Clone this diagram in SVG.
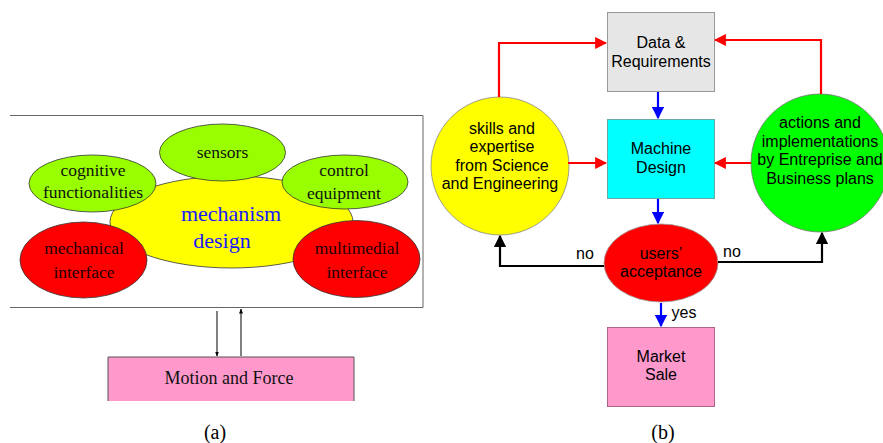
<svg xmlns="http://www.w3.org/2000/svg" width="883" height="443" viewBox="0 0 883 443">
<defs>
<style>
.serif{font-family:"Liberation Serif","Times New Roman",serif;text-anchor:middle;dominant-baseline:central}
.sans{font-family:"Liberation Sans",Arial,sans-serif;text-anchor:middle;dominant-baseline:central;font-size:16px;fill:#000}
.oval{stroke:#333;stroke-width:0.8}
.red{stroke:#ff0000;stroke-width:2.2;fill:none}
.blue{stroke:#0000ff;stroke-width:2.2;fill:none}
.blk{stroke:#000;stroke-width:2.2;fill:none}
.thin{stroke:#000;stroke-width:1;fill:none}
</style>
<marker id="ar" viewBox="0 0 10 10" refX="9" refY="5" markerWidth="5.5" markerHeight="5.5" orient="auto" markerUnits="strokeWidth"><path d="M0,0 L10,5 L0,10 z" fill="#ff0000"/></marker>
<marker id="ab" viewBox="0 0 10 10" refX="9" refY="5" markerWidth="5.5" markerHeight="5.5" orient="auto" markerUnits="strokeWidth"><path d="M0,0 L10,5 L0,10 z" fill="#0000ff"/></marker>
<marker id="ak" viewBox="0 0 10 10" refX="9" refY="5" markerWidth="5.5" markerHeight="5.5" orient="auto" markerUnits="strokeWidth"><path d="M0,0 L10,5 L0,10 z" fill="#000"/></marker>
<marker id="as" viewBox="0 0 10 10" refX="9" refY="5" markerWidth="5" markerHeight="5" orient="auto" markerUnits="strokeWidth"><path d="M0,1 L10,5 L0,9 z" fill="#000"/></marker>
</defs>
<rect width="883" height="443" fill="#fff"/>

<!-- Panel (a) -->
<g id="frame-a">
<path d="M10,115.5 H423 V307.5 H10" fill="none" stroke="#666" stroke-width="1"/>
</g>
<g id="mechanism-design">
<ellipse cx="231.5" cy="222" rx="121.5" ry="46" fill="#ffff00" class="oval"/>
<text class="serif" x="231" y="213" font-size="22" fill="#1a1aff">mechanism</text>
<text class="serif" x="222" y="240" font-size="22" fill="#1a1aff">design</text>
</g>
<g id="sensors">
<ellipse cx="222.5" cy="152.5" rx="63" ry="28.5" fill="#99ff00" class="oval"/>
<text class="serif" x="222.5" y="152" font-size="17.5" fill="#111">sensors</text>
</g>
<g id="cognitive">
<ellipse cx="92.5" cy="183.5" rx="63.5" ry="28.5" fill="#99ff00" class="oval"/>
<text class="serif" x="93" y="170" font-size="17.5" fill="#111">cognitive</text>
<text class="serif" x="93" y="192" font-size="17.5" fill="#111">functionalities</text>
</g>
<g id="control">
<ellipse cx="345" cy="182" rx="63" ry="27" fill="#99ff00" class="oval"/>
<text class="serif" x="344" y="170" font-size="17.5" fill="#111">control</text>
<text class="serif" x="344" y="193" font-size="17.5" fill="#111">equipment</text>
</g>
<g id="mechanical">
<ellipse cx="83.5" cy="260" rx="63.5" ry="38" fill="#ff0000" class="oval"/>
<text class="serif" x="84" y="248" font-size="17.5" fill="#220000">mechanical</text>
<text class="serif" x="84" y="272" font-size="17.5" fill="#220000">interface</text>
</g>
<g id="multimedial">
<ellipse cx="356.5" cy="259" rx="63.5" ry="38.5" fill="#ff0000" class="oval"/>
<text class="serif" x="357" y="248" font-size="17.5" fill="#220000">multimedial</text>
<text class="serif" x="357" y="272" font-size="17.5" fill="#220000">interface</text>
</g>
<g id="motion-force">
<rect x="108" y="357" width="246" height="44" fill="#ff99cc"/>
<path d="M108,401 V357 H354 V401" fill="none" stroke="#555" stroke-width="1"/>
<text class="serif" x="229" y="378" font-size="18" fill="#111">Motion and Force</text>
</g>
<g id="connectors-a">
<line x1="217" y1="311" x2="217" y2="356" class="thin" marker-end="url(#as)"/>
<line x1="241" y1="356" x2="241" y2="309" class="thin" marker-end="url(#as)"/>
</g>
<text class="serif" x="215" y="432" font-size="20" fill="#000">(a)</text>

<!-- Panel (b) -->
<g id="data-req">
<rect x="607.5" y="12.5" width="107" height="79" fill="#e6e6e6" stroke="#999" stroke-width="1"/>
<text class="sans" x="661" y="42">Data &amp;</text>
<text class="sans" x="661" y="61">Requirements</text>
</g>
<g id="machine-design">
<rect x="607.5" y="119.5" width="107" height="79" fill="#00ffff" stroke="#66aaaa" stroke-width="1"/>
<text class="sans" x="661" y="148">Machine</text>
<text class="sans" x="661" y="167">Design</text>
</g>
<g id="skills">
<circle cx="500" cy="166" r="69" fill="#ffff00" stroke="#888" stroke-width="0.8"/>
<text class="sans" x="502" y="128">skills and</text>
<text class="sans" x="502" y="146">expertise</text>
<text class="sans" x="502" y="165">from Science</text>
<text class="sans" x="500" y="183">and Engineering</text>
</g>
<g id="actions">
<circle cx="820" cy="163" r="69" fill="#00ff00" stroke="#777" stroke-width="0.8"/>
<text class="sans" x="820" y="122">actions and</text>
<text class="sans" x="820" y="141">implementations</text>
<text class="sans" x="820" y="159">by Entreprise and</text>
<text class="sans" x="820" y="178">Business plans</text>
</g>
<g id="users">
<ellipse cx="661" cy="263" rx="57" ry="39" fill="#ff0000" stroke="#999" stroke-width="0.8"/>
<text class="sans" x="661" y="253" fill="#220000">users’</text>
<text class="sans" x="661" y="271" fill="#220000">acceptance</text>
</g>
<g id="market">
<rect x="607.5" y="327.5" width="107" height="79" fill="#ff99cc" stroke="#aa6688" stroke-width="1"/>
<text class="sans" x="661" y="356">Market</text>
<text class="sans" x="661" y="374">Sale</text>
</g>
<g id="connectors-b">
<path d="M499,97 V43 H606" class="red" marker-end="url(#ar)"/>
<path d="M821,94 V40 H715" class="red" marker-end="url(#ar)"/>
<path d="M568,163 H606" class="red" marker-end="url(#ar)"/>
<path d="M751,163 H715" class="red" marker-end="url(#ar)"/>
<path d="M658,92 V118" class="blue" marker-end="url(#ab)"/>
<path d="M658,199 V223" class="blue" marker-end="url(#ab)"/>
<path d="M661,303 V326" class="blue" marker-end="url(#ab)"/>
<path d="M604,266 H500 V236" class="blk" marker-end="url(#ak)"/>
<path d="M718,262 H822 V233" class="blk" marker-end="url(#ak)"/>
</g>
<text class="sans" x="585" y="253">no</text>
<text class="sans" x="732" y="251">no</text>
<text class="sans" x="684" y="312">yes</text>
<text class="serif" x="663" y="432" font-size="20" fill="#000">(b)</text>
</svg>
